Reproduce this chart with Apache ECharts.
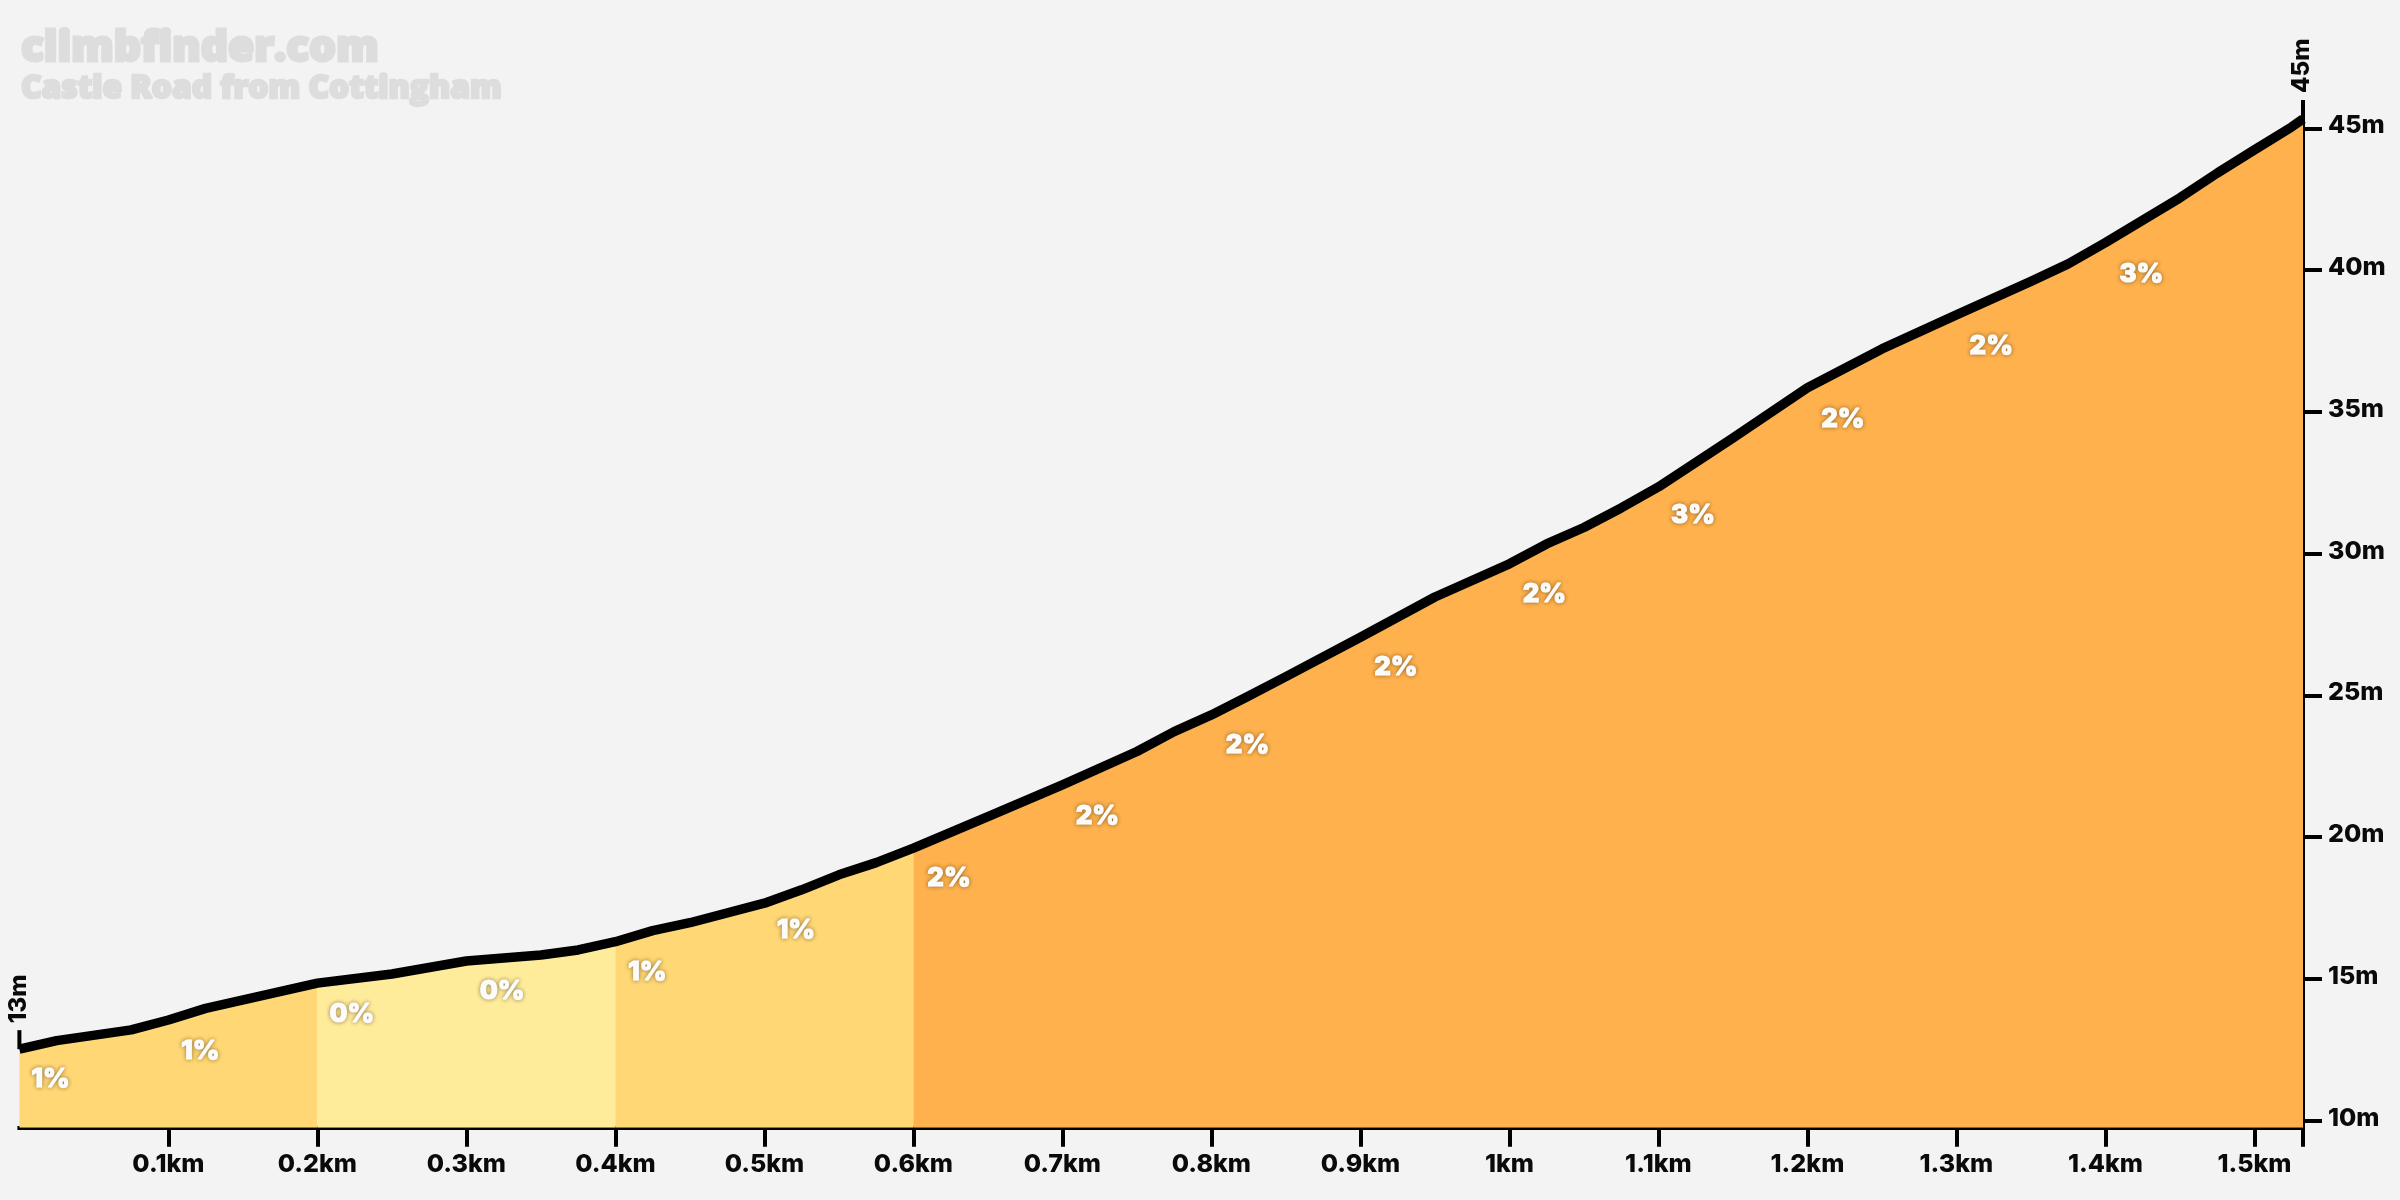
<!DOCTYPE html>
<html>
<head>
<meta charset="utf-8">
<title>Castle Road from Cottingham</title>
<script src="https://cdn.jsdelivr.net/npm/echarts@6/dist/echarts.min.js"></script>
<style>
  html, body { margin: 0; padding: 0; background: #f3f3f3; }
  #chart { width: 2400px; height: 1200px; }
</style>
</head>
<body>
<div id="chart"></div>
<script>
// profile, distance in km and height in m
const distances = [0, 0.025, 0.075, 0.1, 0.125, 0.2, 0.25, 0.3, 0.35, 0.375, 0.4, 0.425, 0.45, 0.5, 0.525, 0.55, 0.575, 0.6,
  0.65, 0.7, 0.75, 0.775, 0.8, 0.825, 0.85, 0.9, 0.95, 1, 1.025, 1.05, 1.075, 1.1, 1.15, 1.2, 1.25, 1.3, 1.35, 1.375, 1.4,
  1.45, 1.475, 1.5, 1.525, 1.5326]
const heights = [12.52, 12.82, 13.2, 13.55, 13.96, 14.85, 15.17, 15.63, 15.84, 16.02, 16.31, 16.7, 16.98, 17.67, 18.14, 18.67, 19.1, 19.61,
  20.72, 21.84, 23.02, 23.72, 24.31, 24.98, 25.66, 27.05, 28.47, 29.64, 30.34, 30.92, 31.61, 32.35, 34.08, 35.85, 37.22, 38.42, 39.6, 40.22, 40.97,
  42.55, 43.42, 44.24, 45.05, 45.33]

// coloured stretches of the climb
const bandStarts = [0, 0.2, 0.4, 0.6]
const bandEnds = [0.2, 0.4, 0.6, 1.5326]
const bandColors = ['#ffd774', '#ffec9b', '#ffd774', '#feb14c']

// gradient labels
const gradeX = [0.0209, 0.1215, 0.2232, 0.3239, 0.4215, 0.5212, 0.6239, 0.7235, 0.8242, 0.9238, 1.0235, 1.1232, 1.2238, 1.3234, 1.4241]
const gradeY = [11.47, 12.44, 13.74, 14.55, 15.25, 16.7, 18.54, 20.75, 23.24, 25.99, 28.58, 31.34, 34.74, 37.33, 39.87]
const gradeText = ['1%', '1%', '0%', '0%', '1%', '1%', '2%', '2%', '2%', '2%', '2%', '3%', '2%', '2%', '3%']

// axis ticks
const xTicks = [0.1, 0.2, 0.3, 0.4, 0.5, 0.6, 0.7, 0.8, 0.9, 1, 1.1, 1.2, 1.3, 1.4, 1.5]
const yTicks = [10, 15, 20, 25, 30, 35, 40, 45]
const endX = [0, 1.5326]
const endY = [12.52, 45.33]
const endText = ['13m', '45m']

const labelFont = 'Inter, sans-serif'
const titleFont = '"Open Sans", sans-serif'
const profile = distances.map((d, i) => [d, heights[i]])

const bandSeries = bandStarts.map((start, i) => ({
  type: 'line',
  data: profile.filter(p => p[0] >= start && p[0] <= bandEnds[i]),
  symbol: 'none',
  silent: true,
  lineStyle: { width: 0 },
  areaStyle: { color: bandColors[i], opacity: 1 },
  z: 2
}))

// percentages are drawn twice so the soft shadow stays under clean white text
const gradeLayer = (z, shadow) => ({
  type: 'scatter',
  data: gradeX.map((x, i) => [x, gradeY[i]]),
  symbolSize: 0,
  silent: true,
  z,
  label: {
    show: true,
    position: 'inside',
    formatter: p => gradeText[p.dataIndex],
    fontFamily: labelFont,
    fontWeight: 800,
    fontSize: 26,
    color: '#fff',
    textBorderColor: '#fff',
    textBorderWidth: 1.2,
    textShadowColor: shadow ? 'rgba(60,40,10,0.6)' : 'transparent',
    textShadowBlur: shadow ? 4 : 0
  }
})

const chart = echarts.init(document.getElementById('chart'))

chart.setOption({
  animation: false,
  backgroundColor: '#f3f3f3',
  title: [
    {
      text: 'climbfinder.com',
      left: 16,
      top: 23,
      textStyle: { fontFamily: titleFont, fontWeight: 800, fontSize: 42.4, color: '#dddddd', textBorderColor: '#dddddd', textBorderWidth: 3 }
    },
    {
      text: 'Castle Road from Cottingham',
      left: 16,
      top: 68,
      textStyle: { fontFamily: titleFont, fontWeight: 800, fontSize: 31.7, color: '#dddddd', textBorderColor: '#dddddd', textBorderWidth: 2.5 }
    }
  ],
  grid: { left: 19.4, right: 97, top: 119, bottom: 72.3 },
  xAxis: {
    type: 'value',
    min: 0,
    max: 1.5326,
    splitLine: { show: false },
    axisLine: { show: true, onZero: false, lineStyle: { color: '#000', width: 4, cap: 'square' } },
    axisTick: { show: true, length: 19, customValues: xTicks.concat(1.5326), lineStyle: { color: '#000', width: 4 } },
    axisLabel: {
      customValues: xTicks,
      margin: 24,
      fontFamily: labelFont,
      fontWeight: 800,
      fontSize: 25,
      color: '#0a0a0a',
      formatter: v => v + 'km'
    }
  },
  yAxis: {
    type: 'value',
    position: 'right',
    min: 9.75,
    max: 45.33,
    splitLine: { show: false },
    axisLine: { show: true, onZero: false, lineStyle: { color: '#000', width: 4 } },
    axisTick: { show: true, length: 19, customValues: yTicks, lineStyle: { color: '#000', width: 4 } },
    axisLabel: {
      customValues: yTicks,
      margin: 25,
      verticalAlign: 'bottom',
      lineHeight: 5,
      fontFamily: labelFont,
      fontWeight: 800,
      fontSize: 25,
      color: '#0a0a0a',
      formatter: v => v + 'm'
    }
  },
  series: [
    ...bandSeries,
    {
      type: 'line',
      data: profile,
      symbol: 'none',
      silent: true,
      clip: false,
      lineStyle: { color: '#000', width: 9.5, join: 'round' },
      z: 3
    },
    gradeLayer(4, true),
    gradeLayer(5, false),
    {
      // start and finish height markers
      type: 'custom',
      data: endX.map((x, i) => [x, endY[i]]),
      encode: { x: 0, y: 1 },
      clip: false,
      silent: true,
      z: 6,
      renderItem: (params, api) => {
        const p = api.coord([api.value(0), api.value(1)])
        return {
          type: 'group',
          children: [
            {
              type: 'line',
              shape: { x1: p[0], y1: p[1], x2: p[0], y2: p[1] - 19 },
              style: { stroke: '#000', lineWidth: 4 }
            },
            {
              type: 'text',
              x: p[0] - 1,
              y: p[1] - 26,
              rotation: Math.PI / 2,
              style: {
                text: endText[params.dataIndex],
                font: '800 24px ' + labelFont,
                fill: '#0a0a0a',
                align: 'left',
                verticalAlign: 'middle'
              }
            }
          ]
        }
      }
    }
  ]
})
</script>
</body>
</html>
